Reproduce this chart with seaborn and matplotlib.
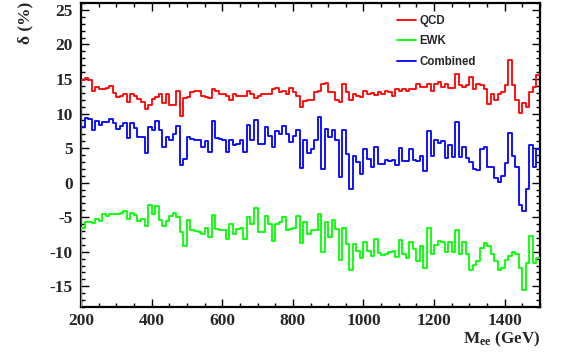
import numpy as np
import pandas as pd
import matplotlib
matplotlib.use("Agg")
import matplotlib.pyplot as plt
import seaborn as sns
from matplotlib.ticker import MultipleLocator

# ---- data ----
x_start, x_stop, bin_width = 200, 1500, 10
y_min, y_max = -18, 26

qcd = [14.9, 15.1, 14.8, 13.3, 13.8, 13.6, 13.5, 13.7, 14.0, 13.0,
       12.4, 12.6, 12.9, 11.6, 12.9, 12.5, 12.1, 11.6, 10.7, 11.3,
       12.1, 12.4, 12.8, 11.5, 12.8, 11.2, 11.2, 13.2, 9.6, 12.3,
       12.4, 13.1, 13.2, 13.2, 12.6, 12.4, 12.3, 13.6, 13.3, 12.9,
       12.85, 12.6, 11.9, 12.85, 12.5, 12.5, 12.6, 13.3, 12.85, 12.3,
       12.6, 12.8, 12.9, 12.85, 13.6, 13.7, 13.1, 13.3, 12.85, 13.7,
       13.1, 12.6, 10.9, 11.8, 12.0, 12.0, 13.1, 13.3, 14.3, 14.4,
       13.1, 13.1, 11.9, 11.7, 14.3, 13.1, 11.9, 12.85, 12.6, 12.4,
       13.3, 12.85, 12.95, 12.7, 13.1, 12.85, 13.3, 13.1, 12.5, 13.6,
       13.3, 13.6, 13.3, 13.6, 13.6, 14.3, 13.9, 13.8, 14.3, 13.3,
       14.3, 14.5, 13.8, 14.3, 13.7, 13.7, 15.75, 14.1, 13.8, 14.2,
       15.3, 13.6, 14.3, 14.1, 13.6, 11.4, 12.85, 11.9, 12.85, 13.1,
       14.1, 17.8, 14.1, 11.9, 10.1, 11.5, 10.9, 13.1, 13.8, 15.6]

ewk = [-6.5, -5.7, -5.7, -5.9, -5.2, -5.5, -4.6, -4.9, -4.6, -4.5,
       -4.5, -4.4, -4.1, -5.2, -4.4, -4.7, -5.6, -5.3, -6.3, -3.3,
       -4.6, -3.4, -5.4, -6.3, -5.6, -4.8, -4.4, -5.0, -7.2, -9.2,
       -5.4, -6.9, -7.0, -7.2, -7.4, -6.5, -7.8, -4.7, -6.7, -6.8,
       -6.9, -8.2, -6.0, -7.4, -6.7, -6.6, -8.2, -5.0, -6.0, -3.6,
       -7.2, -7.2, -4.9, -6.0, -8.4, -6.0, -5.7, -5.0, -6.9, -6.7,
       -6.5, -4.8, -8.8, -5.7, -7.4, -6.9, -6.9, -4.5, -10.0, -5.7,
       -7.9, -5.4, -6.7, -11.2, -6.6, -8.9, -12.7, -8.9, -9.9, -10.9,
       -8.6, -9.9, -10.6, -8.2, -10.2, -10.5, -10.3, -10.1, -9.9, -10.8,
       -8.3, -10.3, -10.9, -8.6, -9.6, -11.3, -9.1, -12.4, -6.6, -10.3,
       -9.0, -8.4, -8.6, -10.1, -8.6, -10.1, -6.9, -10.3, -8.6, -10.3,
       -12.7, -11.9, -11.3, -9.4, -8.8, -9.1, -10.3, -11.3, -12.7, -12.3,
       -11.2, -10.6, -10.1, -10.3, -12.3, -15.6, -11.7, -7.7, -11.7, -10.9]

combined = [8.1, 9.4, 9.2, 7.6, 8.9, 8.3, 8.8, 8.8, 9.2, 8.6,
            7.8, 8.2, 8.7, 6.5, 8.7, 7.9, 6.6, 6.6, 4.3, 8.0,
            7.6, 8.9, 7.6, 5.1, 6.6, 6.2, 7.0, 8.2, 2.5, 3.4,
            6.6, 6.3, 6.2, 6.2, 5.1, 6.0, 4.4, 8.9, 6.4, 6.3,
            6.1, 4.4, 6.2, 5.4, 5.6, 6.2, 4.5, 8.4, 6.2, 9.1,
            5.6, 5.6, 8.1, 6.7, 5.1, 7.5, 7.1, 8.2, 7.1, 5.9,
            6.8, 7.6, 2.1, 6.1, 4.3, 4.9, 6.1, 9.5, 2.0, 7.8,
            6.6, 7.6, 6.1, 0.8, 7.6, 4.2, -0.9, 3.9, 3.0, 1.3,
            4.9, 3.4, 2.3, 5.1, 2.7, 2.7, 3.3, 3.1, 3.3, 2.6,
            5.0, 3.1, 3.1, 4.8, 3.3, 3.1, 3.8, 1.7, 7.5, 3.9,
            6.1, 5.7, 6.0, 3.6, 5.5, 3.7, 8.8, 3.7, 5.2, 3.6,
            3.0, 2.0, 1.8, 4.9, 5.2, 2.3, 2.3, 0.7, 0.15, 0.9,
            2.8, 7.2, 3.8, 2.3, -3.3, -4.1, -0.9, 5.5, 2.2, 4.9]

series_names = ["QCD", "EWK", "Combined"]
series_colors = {"QCD": "#ff0000", "EWK": "#00ff00", "Combined": "#0000ff"}
x_ticks_major, x_ticks_minor = 200, 50
y_ticks_major, y_ticks_minor = 5, 1

# ---- style ----
sns.set_theme(style="ticks")
plt.rcParams["font.family"] = ["Liberation Serif", "DejaVu Serif"]
plt.rcParams["font.weight"] = "bold"
plt.rcParams["axes.unicode_minus"] = False
plt.rcParams["mathtext.fontset"] = "custom"
plt.rcParams["mathtext.rm"] = "Liberation Serif"
plt.rcParams["mathtext.bf"] = "Liberation Serif:bold"
plt.rcParams["mathtext.it"] = "Liberation Serif:italic"

edges = np.arange(x_start, x_stop + bin_width, bin_width)


def step_frame(vals):
    xs = np.concatenate([[edges[0]], edges])
    ys = np.concatenate([[y_min], np.asarray(vals, float), [vals[-1]]])
    return pd.DataFrame({"x": xs, "y": ys})


fig = plt.figure(figsize=(5.63, 3.56), dpi=100)
ax = fig.add_axes([81 / 563, 49 / 356, 459 / 563, 304 / 356])

data = {"QCD": qcd, "EWK": ewk, "Combined": combined}
for name in ["Combined", "QCD", "EWK"]:
    sns.lineplot(data=step_frame(data[name]), x="x", y="y", estimator=None,
                 sort=False, drawstyle="steps-post", color=series_colors[name],
                 lw=1.3, label=name, ax=ax, zorder=3)

ax.xaxis.set_major_locator(MultipleLocator(x_ticks_major))
ax.xaxis.set_minor_locator(MultipleLocator(x_ticks_minor))
ax.yaxis.set_major_locator(MultipleLocator(y_ticks_major))
ax.yaxis.set_minor_locator(MultipleLocator(y_ticks_minor))
ax.set_xlim(x_start, x_stop)
ax.set_ylim(y_min, y_max)
ax.tick_params(which="both", direction="in", top=True, right=True,
               color="black", width=1.0, labelsize=12.5)
ax.tick_params(which="major", length=5.5)
ax.tick_params(which="minor", length=2.8)
ax.tick_params(axis="x", which="major", pad=4.5)
ax.tick_params(axis="y", which="major", pad=6)
for lab in ax.get_xticklabels() + ax.get_yticklabels():
    lab.set_fontweight("bold")
for sp in ax.spines.values():
    sp.set_linewidth(1.6)
    sp.set_color("black")
ax.set_xlabel("")
ax.set_ylabel("")

fig.text(25 / 563, 1 - 2 / 356, "δ (%)", rotation=90, ha="center", va="top",
         fontsize=12.5, fontweight="bold")
fig.text(540 / 563, 1 - 343 / 356, r"M$_{\mathbf{ee}}$ (GeV)", ha="right",
         va="baseline", fontsize=12.3, fontweight="bold")

handles, labels = ax.get_legend_handles_labels()
order = [labels.index(n) for n in series_names]
leg = ax.legend([handles[i] for i in order], [labels[i] for i in order],
                loc="upper left", bbox_to_anchor=(397 / 563, 1 - 15 / 356),
                bbox_transform=fig.transFigure, frameon=False, borderpad=0,
                borderaxespad=0, handlelength=1.65, handletextpad=0.3,
                labelspacing=0.72,
                prop={"family": "Liberation Sans", "weight": "bold", "size": 8.3})
for h in leg.get_lines():
    h.set_linewidth(1.3)

fig.savefig("out.png", dpi=100)
